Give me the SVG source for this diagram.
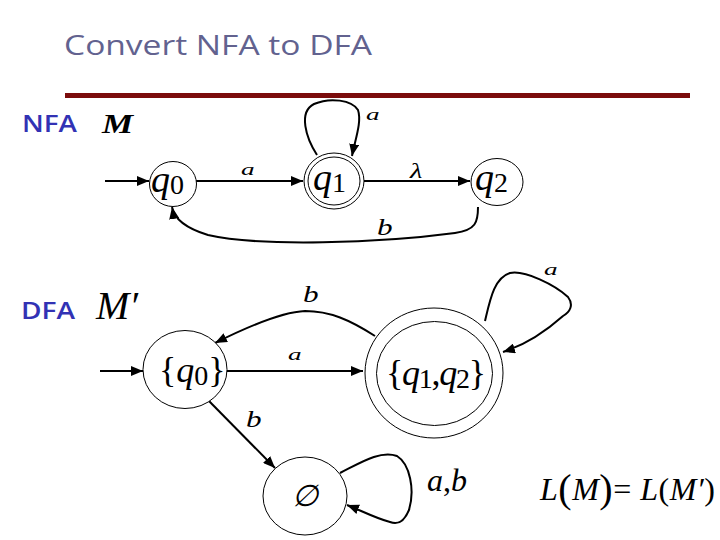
<svg xmlns="http://www.w3.org/2000/svg" width="720" height="540" viewBox="0 0 720 540">
<defs>
<marker id="ah" viewBox="0 0 12 10" refX="12" refY="5" markerWidth="12" markerHeight="10" markerUnits="userSpaceOnUse" orient="auto">
<path d="M0,0 L12,5 L0,10 Z" fill="#000"/>
</marker>
<style>
.st{fill:#fff;stroke:#000;stroke-width:1}
.ed{fill:none;stroke:#000;stroke-width:2;marker-end:url(#ah)}
.mt{font-family:"Liberation Serif","DejaVu Serif",serif;font-style:italic;fill:#000}
.rm{font-family:"Liberation Serif","DejaVu Serif",serif;font-style:normal;fill:#000}
.lb{font-family:"Open Sans","DejaVu Sans",sans-serif;font-weight:600;fill:#3232b4}
</style>
</defs>
<rect width="720" height="540" fill="#fff"/>
<text x="64" y="55" font-family="'Open Sans','DejaVu Sans',sans-serif" font-size="28" fill="#62628f" textLength="308" lengthAdjust="spacingAndGlyphs">Convert NFA to DFA</text>
<rect x="65" y="93" width="625" height="5" fill="#7b0c0c"/>
<text class="lb" x="22" y="132" font-size="24" textLength="55" lengthAdjust="spacingAndGlyphs">NFA</text>
<text class="lb" x="21" y="319" font-size="24" textLength="54" lengthAdjust="spacingAndGlyphs">DFA</text>
<text class="mt" transform="translate(102,133) scale(1.25,1)" font-size="28" font-weight="bold">M</text>
<text class="mt" x="96" y="319" font-size="40">M′</text>
<g id="edges">
<path class="ed" d="M105,181 L149,181"/>
<path class="ed" d="M196,181 L303,181"/>
<path class="ed" d="M364,181 L470,181"/>
<path class="ed" d="M317,155 C306,138 298,112 314,104 C330,97 352,100 358,110 C362,122 355,140 352,156"/>
<path class="ed" d="M478,207 C478,222 476,230 455,233 C380,243 260,247 208,235 C185,228 174,218 172,207"/>
<path class="ed" d="M100,371 L143,371"/>
<path class="ed" d="M227,371 L363,371"/>
<path class="ed" d="M375,336 C350,320 330,311 305,311 C280,312 245,328 215,343"/>
<path class="ed" d="M485,321 C490,300 494,278 510,273 C525,270 555,285 568,297 C574,305 570,312 563,316 C545,332 525,345 503,352"/>
<path class="ed" d="M208,400 L275,468"/>
<path class="ed" d="M340,473 C360,463 380,450 397,456 C410,464 415,490 409,510 C404,522 398,525 390,522 C375,518 360,510 347,505"/>
</g>
<g id="lbls">
<text class="mt" transform="translate(241,175) scale(1.6,1)" font-size="17">a</text>
<text class="mt" transform="translate(366,120) scale(1.6,1)" font-size="17">a</text>
<text class="mt" transform="translate(410,178) scale(1.3,1)" font-size="22">λ</text>
<text class="mt" transform="translate(377,235) scale(1.3,1)" font-size="24">b</text>
<text class="mt" transform="translate(288,360) scale(1.6,1)" font-size="17">a</text>
<text class="mt" transform="translate(303,302) scale(1.3,1)" font-size="24">b</text>
<text class="mt" transform="translate(544,275) scale(1.6,1)" font-size="17">a</text>
<text class="mt" transform="translate(246,427) scale(1.3,1)" font-size="24">b</text>
<text class="mt" x="427" y="491" font-size="32">a<tspan class="rm">,</tspan>b</text>
<text class="mt" x="540" y="500" font-size="32" textLength="175" lengthAdjust="spacing">L<tspan class="rm" font-size="40" dy="2">(</tspan><tspan dy="-2">M</tspan><tspan class="rm" font-size="40" dy="2">)</tspan><tspan class="rm" dy="-2">= </tspan>L<tspan class="rm">(</tspan>M′<tspan class="rm">)</tspan></text>
</g>
<g id="q0">
<ellipse class="st" cx="173" cy="184" rx="23.5" ry="22.5"/>
<text class="mt" x="151" y="192" font-size="38">q<tspan class="rm" font-size="28" dy="2">0</tspan></text>
</g>
<g id="q1">
<ellipse class="st" cx="334" cy="181" rx="30" ry="28"/>
<ellipse class="st" cx="334" cy="181" rx="26" ry="24"/>
<text class="mt" x="313" y="190" font-size="38">q<tspan class="rm" font-size="28" dy="2">1</tspan></text>
</g>
<g id="q2">
<ellipse class="st" cx="497" cy="182" rx="26" ry="23.5"/>
<text class="mt" x="475" y="190" font-size="38">q<tspan class="rm" font-size="28" dy="2">2</tspan></text>
</g>
<g id="d0">
<ellipse class="st" cx="185" cy="369.5" rx="42" ry="39"/>
<text class="rm" x="159" y="382" font-size="36">{<tspan class="mt">q</tspan><tspan font-size="28" dy="3">0</tspan><tspan dy="-3">}</tspan></text>
</g>
<g id="d12">
<ellipse class="st" cx="434" cy="373" rx="69" ry="65"/>
<ellipse class="st" cx="434.5" cy="373.5" rx="58" ry="52"/>
<text class="rm" x="386" y="385" font-size="36" textLength="100" lengthAdjust="spacing">{<tspan class="mt">q</tspan><tspan font-size="28" dy="3">1</tspan><tspan dy="-3">,</tspan><tspan class="mt">q</tspan><tspan font-size="28" dy="3">2</tspan><tspan dy="-3">}</tspan></text>
</g>
<g id="dempty">
<ellipse class="st" cx="305" cy="496" rx="42" ry="39"/>
<text class="mt" x="305" y="506" font-size="30" text-anchor="middle">∅</text>
</g>
</svg>
